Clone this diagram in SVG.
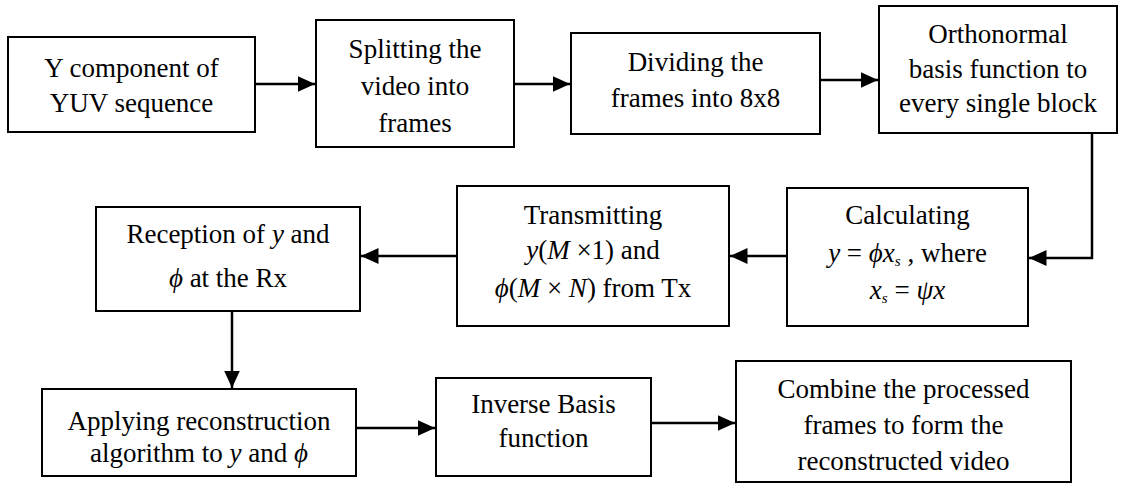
<svg xmlns="http://www.w3.org/2000/svg" width="1121" height="483" viewBox="0 0 1121 483">
  <style>
    .box { fill: #ffffff; stroke: #000000; stroke-width: 2; }
    .lbl { font-family: "Liberation Serif", "Times New Roman", serif; font-size: 27px; fill: #000000; text-anchor: middle; }
    .it { font-style: italic; }
    .sub { font-size: 15px; font-style: italic; }
    .wire { fill: none; stroke: #000000; stroke-width: 2.5; }
  </style>
  <defs>
    <marker id="arrow" markerWidth="8" markerHeight="8" refX="7" refY="4" orient="auto" markerUnits="strokeWidth">
      <path d="M0,0.8 L7,4 L0,7.2 Z" fill="#000000"/>
    </marker>
  </defs>

  <rect width="1121" height="483" fill="#ffffff"/>

  <!-- connectors -->
  <g id="connectors">
    <line class="wire" x1="255" y1="84" x2="315" y2="84" marker-end="url(#arrow)"/>
    <line class="wire" x1="514" y1="84" x2="570" y2="84" marker-end="url(#arrow)"/>
    <line class="wire" x1="820" y1="80" x2="878" y2="80" marker-end="url(#arrow)"/>
    <polyline class="wire" points="1092,133 1092,258 1029,258" marker-end="url(#arrow)"/>
    <line class="wire" x1="787" y1="256" x2="730" y2="256" marker-end="url(#arrow)"/>
    <line class="wire" x1="457" y1="256" x2="361" y2="256" marker-end="url(#arrow)"/>
    <line class="wire" x1="232" y1="311" x2="232" y2="388" marker-end="url(#arrow)"/>
    <line class="wire" x1="356" y1="428" x2="435" y2="428" marker-end="url(#arrow)"/>
    <line class="wire" x1="651" y1="423" x2="735" y2="423" marker-end="url(#arrow)"/>
  </g>

  <g id="node-yuv">
    <rect class="box" x="8" y="37" width="247" height="95"/>
    <text class="lbl" x="131.5" y="77">Y component of</text>
    <text class="lbl" x="131.5" y="112">YUV sequence</text>
  </g>

  <g id="node-split">
    <rect class="box" x="316" y="20" width="198" height="127"/>
    <text class="lbl" x="415" y="58">Splitting the</text>
    <text class="lbl" x="415" y="95">video into</text>
    <text class="lbl" x="415" y="132">frames</text>
  </g>

  <g id="node-divide">
    <rect class="box" x="571" y="33" width="249" height="101"/>
    <text class="lbl" x="695.5" y="71">Dividing the</text>
    <text class="lbl" x="695.5" y="107">frames into 8x8</text>
  </g>

  <g id="node-basis">
    <rect class="box" x="879" y="6" width="238" height="127"/>
    <text class="lbl" x="998" y="43">Orthonormal</text>
    <text class="lbl" x="998" y="78">basis function to</text>
    <text class="lbl" x="998" y="112">every single block</text>
  </g>

  <g id="node-calc">
    <rect class="box" x="787" y="188" width="241" height="138"/>
    <text class="lbl" x="907.5" y="224">Calculating</text>
    <text class="lbl" x="907.5" y="262"><tspan class="it">y</tspan> = <tspan class="it">ϕx</tspan><tspan class="sub" dy="4">s</tspan><tspan dy="-4">  , where</tspan></text>
    <text class="lbl" x="907.5" y="299"><tspan class="it">x</tspan><tspan class="sub" dy="4">s</tspan><tspan dy="-4"> = </tspan><tspan class="it">ψx</tspan></text>
  </g>

  <g id="node-transmit">
    <rect class="box" x="457" y="186" width="272" height="140"/>
    <text class="lbl" x="593" y="224">Transmitting</text>
    <text class="lbl" x="593" y="259"><tspan class="it">y</tspan>(<tspan class="it">M</tspan> ×1)  and</text>
    <text class="lbl" x="593" y="297"><tspan class="it">ϕ</tspan>(<tspan class="it">M</tspan> × <tspan class="it">N</tspan>) from Tx</text>
  </g>

  <g id="node-receive">
    <rect class="box" x="96" y="207" width="264" height="104"/>
    <text class="lbl" x="228" y="243">Reception of  <tspan class="it">y</tspan>  and</text>
    <text class="lbl" x="228" y="287"><tspan class="it">ϕ</tspan> at the Rx</text>
  </g>

  <g id="node-reconstruct">
    <rect class="box" x="42" y="389" width="314" height="87"/>
    <text class="lbl" x="199" y="430">Applying reconstruction</text>
    <text class="lbl" x="199" y="462">algorithm to  <tspan class="it">y</tspan>  and  <tspan class="it">ϕ</tspan></text>
  </g>

  <g id="node-inverse">
    <rect class="box" x="436" y="378" width="215" height="98"/>
    <text class="lbl" x="543.5" y="413">Inverse Basis</text>
    <text class="lbl" x="543.5" y="447">function</text>
  </g>

  <g id="node-combine">
    <rect class="box" x="736" y="361" width="335" height="121"/>
    <text class="lbl" x="903.5" y="398">Combine the processed</text>
    <text class="lbl" x="903.5" y="434">frames to form the</text>
    <text class="lbl" x="903.5" y="470">reconstructed video</text>
  </g>
</svg>
